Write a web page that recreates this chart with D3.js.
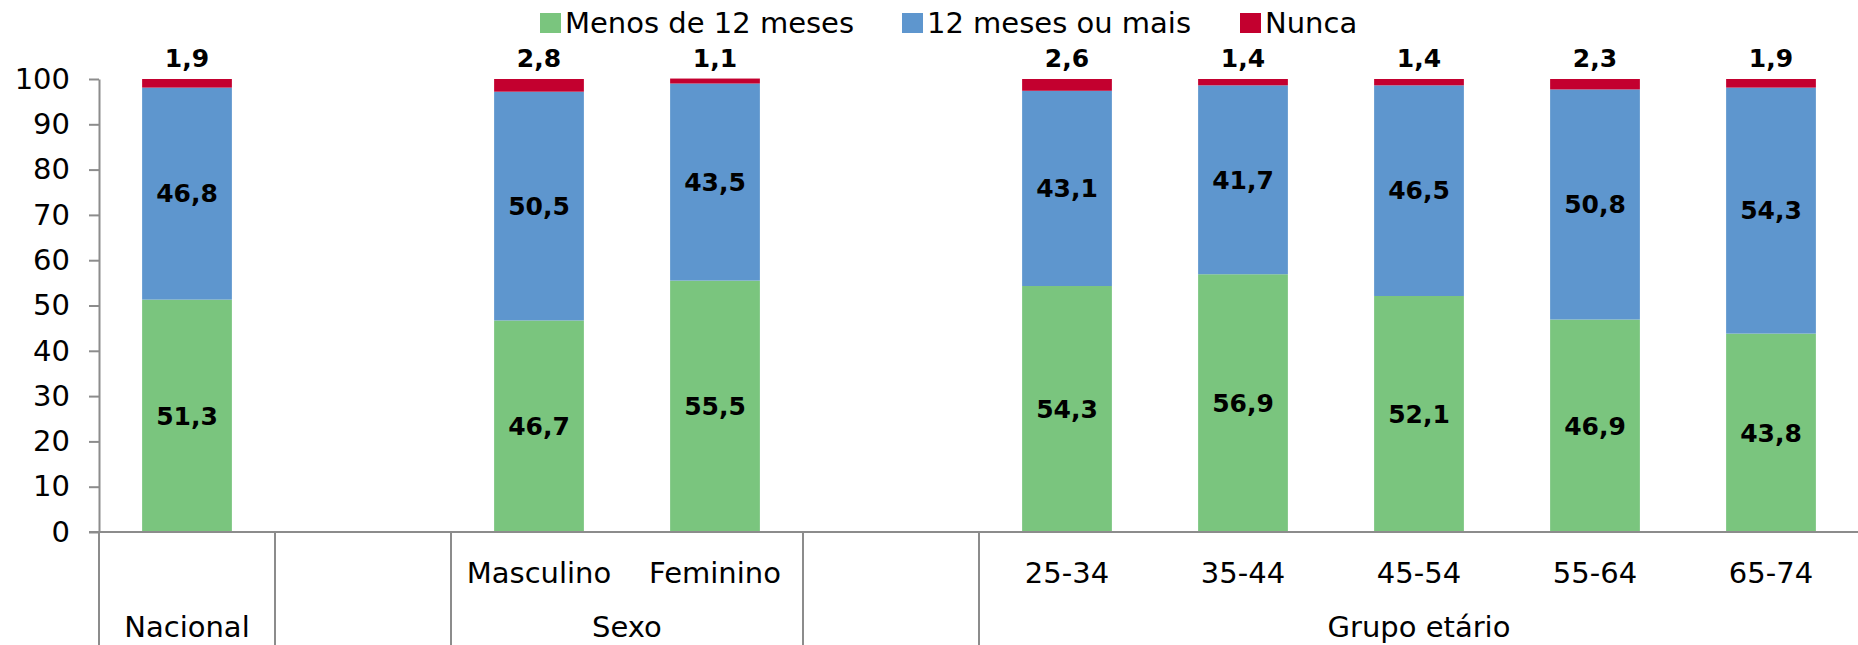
<!DOCTYPE html>
<html>
<head>
<meta charset="utf-8">
<script src="https://cdn.jsdelivr.net/npm/d3@7"></script>
<style>
  body { margin: 0; background: #fff; }
  svg { display: block; }
  text { font-family: "DejaVu Sans", Verdana, sans-serif; fill: #000; }
</style>
</head>
<body>
<div id="chart"></div>
<script>
// slots along the x axis, blanks included
const slots = ["Nacional", "_a", "Masculino", "Feminino", "_b", "25-34", "35-44", "45-54", "55-64", "65-74"];
const subLabels = ["", "", "Masculino", "Feminino", "", "25-34", "35-44", "45-54", "55-64", "65-74"];
const barCategories = ["Nacional", "Masculino", "Feminino", "25-34", "35-44", "45-54", "55-64", "65-74"];

const menos12 = [51.3, 46.7, 55.5, 54.3, 56.9, 52.1, 46.9, 43.8];
const mais12 = [46.8, 50.5, 43.5, 43.1, 41.7, 46.5, 50.8, 54.3];
const nunca = [1.9, 2.8, 1.1, 2.6, 1.4, 1.4, 2.3, 1.9];

const groupNames = ["Nacional", "", "Sexo", "", "Grupo etário"];
const groupFirst = ["Nacional", "_a", "Masculino", "_b", "25-34"];
const groupLast = ["Nacional", "_a", "Feminino", "_b", "65-74"];

const seriesNames = ["Menos de 12 meses", "12 meses ou mais", "Nunca"];
const seriesColors = ["#7ac57e", "#5e96ce", "#c3002f"];
const yTicks = [0, 10, 20, 30, 40, 50, 60, 70, 80, 90, 100];

const width = 1858;
const height = 645;
const axisColor = "#8c8c8c";

const svg = d3.select("#chart")
    .append("svg")
    .attr("width", width)
    .attr("height", height);

const x = d3.scaleBand()
    .domain(slots)
    .range([99, 1859])
    .paddingInner(0.49)
    .paddingOuter(0.245);

const y = d3.scaleLinear()
    .domain([0, 100])
    .range([532, 79]);

const fmt = v => String(v.toFixed(1)).replace(".", ",");

// stack the three series
const rows = barCategories.map((c, i) => ({
    cat: c,
    s0: menos12[i],
    s1: mais12[i],
    s2: nunca[i]
}));
const stack = d3.stack().keys(["s0", "s1", "s2"]);
const layers = stack(rows);

svg.append("g")
    .selectAll("g")
    .data(layers)
    .enter()
    .append("g")
    .attr("fill", (d, i) => seriesColors[i])
    .selectAll("rect")
    .data(d => d)
    .enter()
    .append("rect")
    .attr("x", d => x(d.data.cat))
    .attr("width", x.bandwidth())
    .attr("y", d => y(d[1]))
    .attr("height", d => y(d[0]) - y(d[1]));

// y axis
const yAxis = svg.append("g")
    .attr("transform", `translate(${x.range()[0]},0)`)
    .call(d3.axisLeft(y).tickValues(yTicks).tickSize(10).tickSizeOuter(0).tickPadding(19));
yAxis.select(".domain").attr("stroke", axisColor).attr("stroke-width", 2);
yAxis.selectAll(".tick line").attr("stroke", axisColor).attr("stroke-width", 2);
yAxis.selectAll(".tick text")
    .attr("font-size", 29)
    .attr("font-family", "DejaVu Sans, Verdana, sans-serif")
    .attr("fill", "#000");

// baseline and category axis
const step = x.step();
const edge = s => x(s) - step * x.paddingInner() / 2;

svg.append("line")
    .attr("x1", x.range()[0] - 10).attr("x2", width)
    .attr("y1", y(0)).attr("y2", y(0))
    .attr("stroke", axisColor).attr("stroke-width", 2);

svg.append("line")
    .attr("x1", x.range()[0]).attr("x2", x.range()[0])
    .attr("y1", y(0)).attr("y2", height)
    .attr("stroke", axisColor).attr("stroke-width", 2);

svg.append("g")
    .selectAll("line")
    .data(groupLast.slice(0, -1))
    .enter()
    .append("line")
    .attr("x1", d => Math.round(edge(d) + step))
    .attr("x2", d => Math.round(edge(d) + step))
    .attr("y1", y(0))
    .attr("y2", height)
    .attr("stroke", axisColor)
    .attr("stroke-width", 2);

svg.append("g")
    .selectAll("text")
    .data(slots)
    .enter()
    .append("text")
    .attr("x", d => x(d) + x.bandwidth() / 2)
    .attr("y", 583)
    .attr("text-anchor", "middle")
    .attr("font-size", 29)
    .text((d, i) => subLabels[i]);

svg.append("g")
    .selectAll("text")
    .data(groupNames)
    .enter()
    .append("text")
    .attr("x", (d, i) => (edge(groupFirst[i]) + edge(groupLast[i]) + step) / 2)
    .attr("y", 637)
    .attr("text-anchor", "middle")
    .attr("font-size", 29)
    .text(d => d);

// value labels
const labelGroup = svg.append("g")
    .attr("font-weight", "bold")
    .attr("font-size", 25)
    .attr("text-anchor", "middle");

layers.forEach((layer, li) => {
    labelGroup.selectAll(null)
        .data(layer)
        .enter()
        .append("text")
        .attr("x", d => x(d.data.cat) + x.bandwidth() / 2)
        .attr("y", d => li === 2 ? y(d[1]) - 12 : y((d[0] + d[1]) / 2))
        .attr("dy", li === 2 ? 0 : "0.35em")
        .text(d => fmt(d[1] - d[0]));
});

// legend
const legend = svg.append("g")
    .attr("transform", "translate(540,23)");
const legendX = [0, 362, 700];
const items = legend.selectAll("g")
    .data(seriesNames)
    .enter()
    .append("g")
    .attr("transform", (d, i) => `translate(${legendX[i]},0)`);
items.append("rect")
    .attr("x", 0).attr("y", -10)
    .attr("width", 21).attr("height", 20)
    .attr("fill", (d, i) => seriesColors[i]);
items.append("text")
    .attr("x", 25)
    .attr("dy", "0.35em")
    .attr("font-size", 29)
    .text(d => d);
</script>
</body>
</html>
